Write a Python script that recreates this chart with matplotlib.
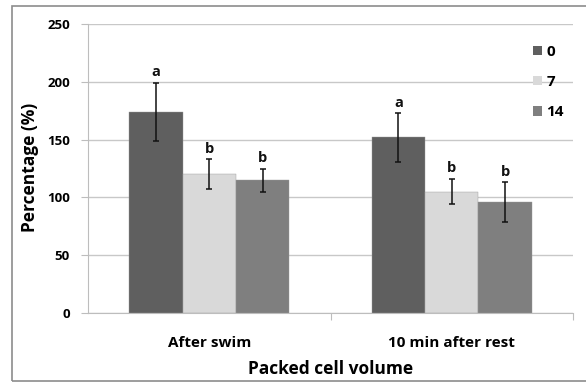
import numpy as np
import matplotlib
matplotlib.use('Agg')
import matplotlib.pyplot as plt
from matplotlib.patches import Rectangle

# data
groups = ['After swim', '10 min after rest']
series = ['0', '7', '14']
vals_0 = [174, 152]
vals_7 = [120, 105]
vals_14 = [115, 96]
err_0 = [25, 21]
err_7 = [13, 11]
err_14 = [10, 17]
letters_0 = ['a', 'a']
letters_7 = ['b', 'b']
letters_14 = ['b', 'b']

colors = ['#5f5f5f', '#d9d9d9', '#7f7f7f']

plt.rcParams['font.family'] = ['Open Sans', 'DejaVu Sans']

fig = plt.figure(figsize=(5.86, 3.82), dpi=100)
# outer chart frame
fig.patches.append(Rectangle((12 / 586, 1 / 382), 1.1, (376 - 1) / 382,
                             transform=fig.transFigure, fill=False,
                             edgecolor='#8c8c8c', linewidth=1.2))
ax = fig.add_axes([88 / 586, (382 - 313) / 382, 485 / 586, 289 / 382])

x = np.arange(len(groups))
w = 0.22
all_vals = [vals_0, vals_7, vals_14]
all_errs = [err_0, err_7, err_14]
all_letters = [letters_0, letters_7, letters_14]
for i, (v, e, lt) in enumerate(zip(all_vals, all_errs, all_letters)):
    pos = x + (i - 1) * w
    ax.bar(pos, v, width=w, color=colors[i], edgecolor='#9a9a9a',
           linewidth=0.3, label=series[i], zorder=3)
    ax.errorbar(pos, v, yerr=e, fmt='none', ecolor='#111111',
                elinewidth=1.1, capsize=2.5, capthick=1.1, zorder=4)
    for p, val, err, l in zip(pos, v, e, lt):
        ax.text(p, val + err + 3, l, ha='center', va='bottom',
                fontsize=10.5, fontweight='bold', color='#111111')

ax.set_xlim(-0.5, 1.5)
ax.set_ylim(0, 250)
ax.set_yticks([0, 50, 100, 150, 200, 250])
ax.yaxis.grid(True, color='#c8c8c8', linewidth=1.0, zorder=0)
ax.set_axisbelow(True)
for s in ['top', 'right']:
    ax.spines[s].set_visible(False)
ax.spines['left'].set_color('#bdbdbd')
ax.spines['bottom'].set_color('#bdbdbd')
ax.set_xticks([0.5, 1.5], minor=False)
ax.set_xticklabels([])
ax.tick_params(axis='x', length=5, color='#bdbdbd')
ax.tick_params(axis='y', length=5, color='#bdbdbd', labelsize=9.5, pad=8)
for t in ax.get_yticklabels():
    t.set_fontweight('bold')
for xi, g in zip(x, groups):
    ax.text(xi, -26, g, ha='center', va='center', fontsize=11,
            fontweight='bold', transform=ax.transData)

fig.text(30 / 586, 1 - 167 / 382, 'Percentage (%)', rotation=90, ha='center',
         va='center', fontsize=12.5, fontweight='bold')
fig.text(331 / 586, 1 - 369 / 382, 'Packed cell volume', ha='center',
         va='center', fontsize=12.5, fontweight='bold')

leg = ax.legend(loc='upper right', bbox_to_anchor=(1.01, 0.975), frameon=False,
                fontsize=11, handlelength=0.6, handleheight=0.6,
                handletextpad=0.3, labelspacing=1.05)
for t in leg.get_texts():
    t.set_fontweight('bold')
for h in leg.legend_handles:
    h.set_linewidth(0)

fig.savefig('out.png', dpi=100)
